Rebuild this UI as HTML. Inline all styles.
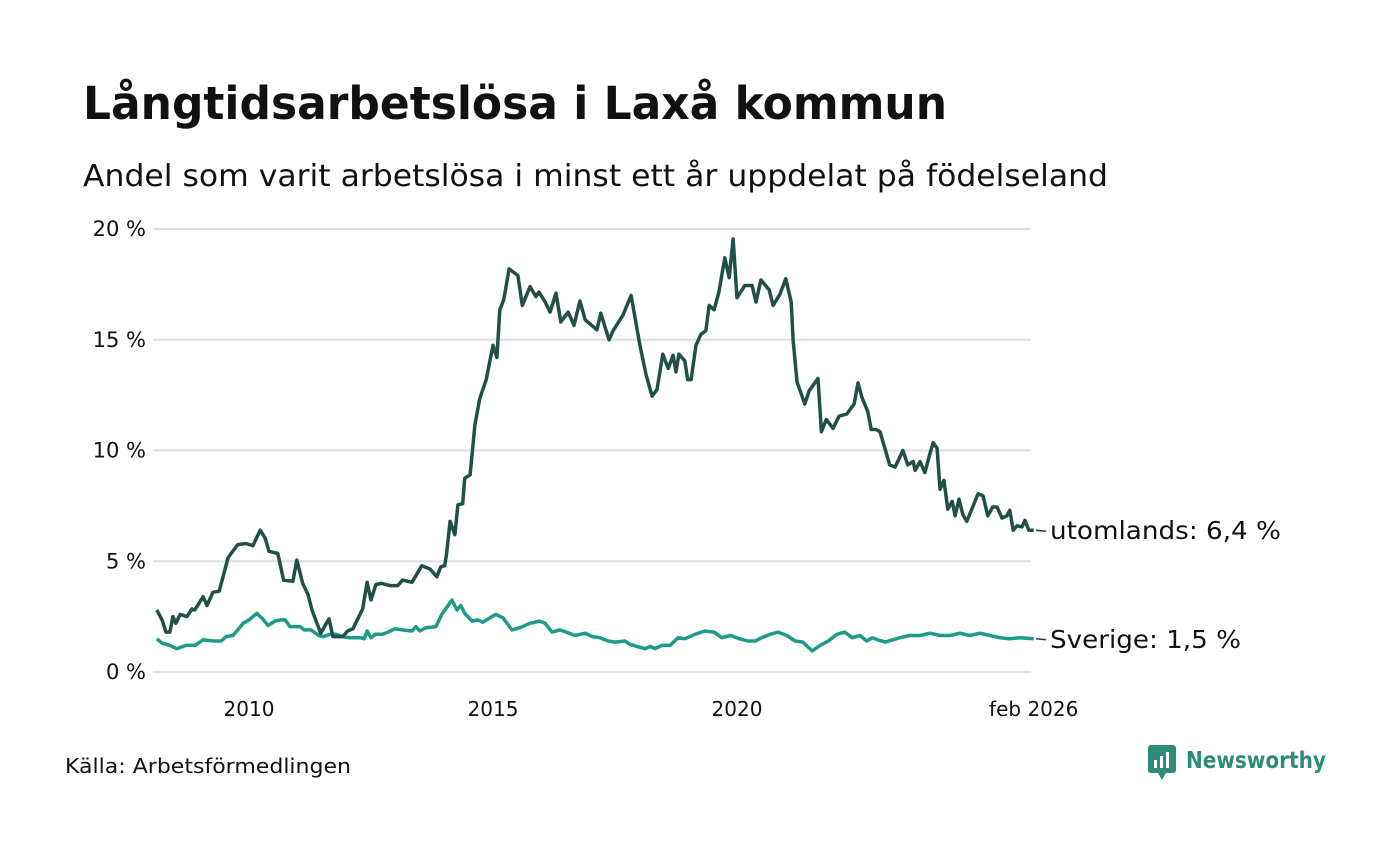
<!DOCTYPE html>
<html><head><meta charset="utf-8"><style>
body{margin:0;background:#fff;width:1400px;height:840px;overflow:hidden;font-family:"DejaVu Sans","Liberation Sans",sans-serif}
</style></head><body>
<svg width="1400" height="840" id="chart" xmlns="http://www.w3.org/2000/svg" font-family="DejaVu Sans, Liberation Sans, sans-serif">
<text x="83" y="119" font-size="45" font-weight="bold" fill="#111" textLength="864" lengthAdjust="spacingAndGlyphs">Långtidsarbetslösa i Laxå kommun</text>
<text x="83" y="186" font-size="30" fill="#111" textLength="1025" lengthAdjust="spacingAndGlyphs">Andel som varit arbetslösa i minst ett år uppdelat på födelseland</text>
<g id="grid"></g><g id="lines"></g>
<text x="65" y="773" font-size="20" fill="#111" textLength="286" lengthAdjust="spacingAndGlyphs">Källa: Arbetsförmedlingen</text>
<g>
<rect x="1148" y="745" width="28" height="28" rx="3" fill="#2e8b7a"/>
<path d="M1158 773 L1162 780 L1166 773Z" fill="#2e8b7a"/>
<rect x="1154" y="760" width="3" height="8" fill="#fff"/><rect x="1160" y="756" width="3" height="12" fill="#fff"/><rect x="1166" y="752" width="3" height="16" fill="#fff"/>
<text x="1186" y="768" font-size="23" font-weight="bold" fill="#2e8b7a" textLength="140" lengthAdjust="spacingAndGlyphs">Newsworthy</text>
</g>
</svg>
<script>
const yTicks=[0,5,10,15,20];
const xTickYears=[2010,2015,2020,2026.08];
const xTickLabels=["2010","2015","2020","feb 2026"];
const abroadT=[.11,.22,.30,.38,.44,.50,.59,.73,.83,.89,1.06,1.14,1.26,1.39,1.57,1.65,1.77,1.94,2.08,2.23,2.33,2.41,2.59,2.71,2.90,2.98,3.10,3.21,3.29,3.47,3.64,3.72,3.92,4.02,4.13,4.33,4.42,4.50,4.60,4.72,4.89,5.05,5.15,5.34,5.54,5.71,5.85,5.93,6.01,6.05,6.12,6.22,6.28,6.38,6.42,6.53,6.63,6.73,6.86,7.00,7.08,7.14,7.22,7.33,7.51,7.60,7.76,7.88,7.94,8.07,8.17,8.29,8.39,8.54,8.66,8.78,8.89,9.13,9.21,9.32,9.38,9.46,9.66,9.83,10.01,10.14,10.26,10.36,10.48,10.59,10.69,10.75,10.81,10.93,10.99,11.06,11.16,11.26,11.36,11.43,11.53,11.63,11.75,11.84,11.92,12.00,12.16,12.31,12.39,12.49,12.66,12.74,12.88,13.00,13.11,13.15,13.23,13.39,13.48,13.66,13.73,13.83,13.97,14.09,14.25,14.40,14.48,14.56,14.68,14.75,14.85,14.93,15.13,15.24,15.40,15.50,15.61,15.65,15.75,15.85,15.96,16.02,16.10,16.16,16.24,16.32,16.41,16.47,16.55,16.63,16.71,16.94,17.04,17.14,17.24,17.33,17.43,17.53,17.59,17.66,17.74,17.84,17.90,17.98,18.08];
const abroadV=[2.8,2.35,1.8,1.8,2.5,2.2,2.6,2.5,2.85,2.8,3.4,3.0,3.6,3.65,5.15,5.4,5.75,5.8,5.7,6.4,6.05,5.45,5.35,4.15,4.1,5.05,4.0,3.5,2.8,1.75,2.4,1.6,1.6,1.85,1.95,2.85,4.05,3.25,3.95,4.0,3.9,3.9,4.15,4.05,4.8,4.65,4.3,4.75,4.8,5.35,6.8,6.2,7.55,7.6,8.75,8.9,11.15,12.35,13.2,14.75,14.2,16.35,16.8,18.2,17.9,16.55,17.4,16.95,17.15,16.7,16.25,17.1,15.8,16.25,15.65,16.75,15.9,15.45,16.2,15.4,15.0,15.4,16.1,17.0,14.75,13.4,12.45,12.75,14.35,13.7,14.3,13.55,14.35,14.05,13.2,13.2,14.75,15.25,15.4,16.55,16.35,17.15,18.7,17.8,19.55,16.9,17.45,17.45,16.7,17.7,17.25,16.55,17.05,17.75,16.7,15.0,13.1,12.1,12.7,13.25,10.85,11.4,11.0,11.55,11.65,12.1,13.05,12.4,11.75,10.95,10.95,10.85,9.35,9.25,10.0,9.35,9.5,9.1,9.5,9.0,9.9,10.35,10.1,8.25,8.65,7.35,7.7,7.05,7.8,7.1,6.8,8.05,7.95,7.05,7.45,7.45,6.95,7.05,7.3,6.4,6.6,6.55,6.85,6.4,6.4];
const swedenT=[.11,.22,.38,.52,.71,.89,1.06,1.28,1.43,1.53,1.67,1.77,1.88,2.00,2.16,2.30,2.39,2.53,2.64,2.74,2.84,3.05,3.13,3.27,3.43,3.52,3.66,3.78,3.92,4.05,4.17,4.29,4.36,4.42,4.50,4.59,4.73,4.85,4.99,5.14,5.34,5.42,5.50,5.63,5.83,5.95,6.16,6.26,6.34,6.42,6.57,6.69,6.79,6.94,7.06,7.20,7.39,7.55,7.76,7.96,8.07,8.21,8.37,8.50,8.68,8.89,9.03,9.19,9.36,9.50,9.70,9.81,9.95,10.12,10.22,10.32,10.46,10.63,10.79,10.93,11.14,11.34,11.53,11.69,11.86,12.06,12.22,12.37,12.51,12.68,12.84,13.02,13.19,13.35,13.54,13.70,13.87,14.05,14.21,14.36,14.52,14.66,14.77,14.89,15.04,15.18,15.34,15.54,15.75,15.96,16.16,16.37,16.57,16.78,16.98,17.18,17.39,17.59,17.80,18.08];
const swedenV=[1.5,1.3,1.2,1.05,1.2,1.2,1.45,1.4,1.4,1.6,1.65,1.9,2.2,2.35,2.65,2.35,2.1,2.3,2.35,2.35,2.05,2.05,1.9,1.9,1.65,1.6,1.7,1.7,1.6,1.55,1.55,1.55,1.5,1.85,1.55,1.7,1.7,1.8,1.95,1.9,1.85,2.05,1.85,2.0,2.05,2.6,3.25,2.8,3.0,2.65,2.3,2.35,2.25,2.45,2.6,2.45,1.9,2.0,2.2,2.3,2.2,1.8,1.9,1.8,1.65,1.75,1.6,1.55,1.4,1.35,1.4,1.25,1.15,1.05,1.15,1.05,1.2,1.2,1.55,1.5,1.7,1.85,1.8,1.55,1.65,1.5,1.4,1.4,1.55,1.7,1.8,1.65,1.4,1.35,0.95,1.2,1.4,1.7,1.8,1.55,1.65,1.4,1.55,1.45,1.35,1.45,1.55,1.65,1.65,1.75,1.65,1.65,1.75,1.65,1.75,1.65,1.55,1.5,1.55,1.5];
const NS="http://www.w3.org/2000/svg";
const xS=y=>151.4+(y-2008)*48.8;
const yS=v=>672-v*22.15;
function mk(tag,attrs,parent){const e=document.createElementNS(NS,tag);for(const k in attrs)e.setAttribute(k,attrs[k]);parent.appendChild(e);return e;}
const grid=document.getElementById('grid'),lines=document.getElementById('lines');
yTicks.forEach(t=>{
 const l=mk('line',{x1:153,x2:1031,y1:yS(t),y2:yS(t),stroke:'#dddde2','stroke-width':2},grid);
 
 
 const tx=mk('text',{x:146,y:yS(t)+7,'text-anchor':'end','font-size':21,fill:'#111'},grid);
 tx.textContent=t+' %';
 
 
});
xTickYears.forEach((y,i)=>{
 const tx=mk('text',{x:xS(y),y:716,'text-anchor':'middle','font-size':20,fill:'#111'},grid);
 tx.textContent=xTickLabels[i];
 
 
});
function series(T,V,color,name,label,w){
 const d=T.map((t,i)=>(i?'L':'M')+xS(2008+t).toFixed(1)+' '+yS(V[i]).toFixed(1)).join(' ');
 const p=mk('path',{d:d,fill:'none',stroke:color,'stroke-width':3.5,'stroke-linejoin':'round'},lines);
 
 
 const lv=V[V.length-1],ly=yS(lv);
 const c=mk('line',{x1:1036,x2:1046,y1:ly,y2:ly+1,stroke:'#333','stroke-width':1.5},lines);
 
 
 const tx=mk('text',{x:1050,y:ly+9,'font-size':25,fill:'#111',textLength:w,lengthAdjust:'spacingAndGlyphs'},lines);
 tx.textContent=label+': '+lv.toFixed(1).replace('.',',')+' %';
 
 
}
series(swedenT,swedenV,'#1d9a88','sweden','Sverige',191);
series(abroadT,abroadV,'#224f48','abroad','utomlands',231);
</script>
</body></html>
